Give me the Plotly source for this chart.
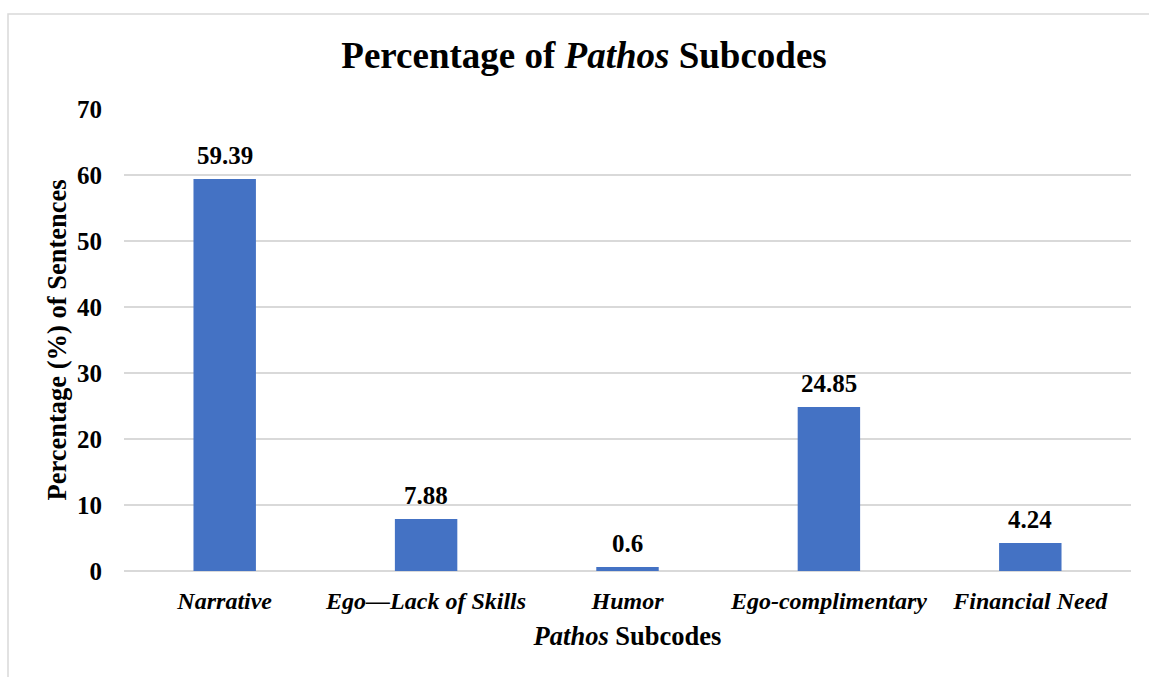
import plotly.graph_objects as go

# Pathos subcodes and their share of sentences (%)
categories = ["Narrative", "Ego\u2014Lack of Skills", "Humor", "Ego-complimentary", "Financial Need"]
percentages = [59.39, 7.88, 0.6, 24.85, 4.24]
value_labels = ["59.39", "7.88", "0.6", "24.85", "4.24"]
y_ticks = [0, 10, 20, 30, 40, 50, 60, 70]

SERIF = "Liberation Serif, Times New Roman, serif"
BAR_BLUE = "#4472C4"
GRID = "#d9d9d9"

fig = go.Figure(
    go.Bar(
        x=categories,
        y=percentages,
        marker=dict(color=BAR_BLUE, line=dict(width=0)),
        hoverinfo="skip",
    )
)

# value labels above each bar
for cat, val, lab in zip(categories, percentages, value_labels):
    fig.add_annotation(
        x=cat, y=val, text=f"<b>{lab}</b>",
        showarrow=False, yanchor="bottom", yshift=8,
        font=dict(family=SERIF, size=25, color="black"),
    )

# thin frame around the chart
fig.add_shape(
    type="rect", xref="paper", yref="paper",
    x0=(8 - 124) / 1007, x1=2.0, y0=-2.0, y1=(571 - 14) / 462,
    line=dict(color=GRID, width=1.5), fillcolor="rgba(0,0,0,0)",
    layer="below",
)

fig.update_layout(
    width=1149, height=677,
    margin=dict(l=124, r=18, t=109, b=106),
    paper_bgcolor="white", plot_bgcolor="white",
    bargap=0.69,
    showlegend=False,
    title=dict(
        text="<b>Percentage of <i>Pathos</i> Subcodes</b>",
        x=584 / 1149, xref="container", xanchor="center",
        y=1 - 55 / 677, yref="container", yanchor="middle",
        font=dict(family=SERIF, size=37, color="black"),
    ),
    xaxis=dict(
        tickmode="array",
        tickvals=categories,
        ticktext=[f"<b><i>{c}</i></b>" for c in categories],
        tickfont=dict(family=SERIF, size=24, color="black"),
        showgrid=False, zeroline=False, showline=False, ticks="",
        ticklabelstandoff=13,
        title=dict(
            text="<b><i>Pathos</i> Subcodes</b>",
            font=dict(family=SERIF, size=26.5, color="black"),
            standoff=13,
        ),
    ),
    yaxis=dict(
        range=[0, 70],
        tickmode="array",
        tickvals=y_ticks,
        ticktext=[f"<b>{t}</b>" for t in y_ticks],
        tickfont=dict(family=SERIF, size=25, color="black"),
        showgrid=True, gridcolor=GRID, gridwidth=1.5,
        zeroline=True, zerolinecolor=GRID, zerolinewidth=1.5,
        showline=False, ticks="", ticklabelstandoff=21,
        title=dict(
            text="<b>Percentage (%) of Sentences</b>",
            font=dict(family=SERIF, size=26.5, color="black"),
            standoff=2,
        ),
    ),
)

fig.write_html("out.html")
